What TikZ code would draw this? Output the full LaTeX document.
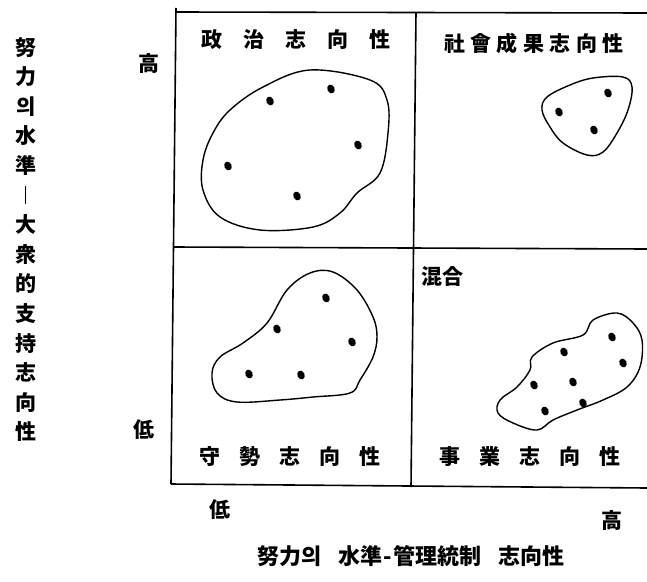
\documentclass[tikz,border=0pt]{standalone}
\usepackage{fontspec}
\newfontfamily\cjk{Noto Sans CJK KR}
\newcommand\gpA{\hspace{21pt}}
\newcommand\gpB{\hspace{5.5pt}}
\newcommand\gpC{\hspace{19pt}}
\begin{document}
\begin{tikzpicture}[x=1pt,y=-1pt,
  frame/.style={line width=1.6pt,black},
  blob/.style={line width=1.4pt,black},
  lbl/.style={font=\cjk\bfseries\fontsize{21}{21}\selectfont,inner sep=0pt},
  axlbl/.style={font=\cjk\bfseries\fontsize{21}{21}\selectfont,inner sep=0pt},
  dotm/.style={fill=black}]
\useasboundingbox (0,0) rectangle (647,581);
\fill[white] (0,0) rectangle (647,581);
% frame corners
\coordinate (tl) at (176,8);
\coordinate (tlh) at (176,12);
\coordinate (tr) at (647,13);
\coordinate (bl) at (171,484);
\coordinate (br) at (647,488);
\coordinate (mt) at (416,12);
\coordinate (mb) at (411,487);
\coordinate (ml) at (174,247);
\coordinate (mr) at (647,249);
\draw[frame] (tl) -- (bl);
\draw[frame] (tlh) -- (tr);
\draw[frame] (bl) -- (br);
\draw[frame] (mt) -- (mb);
\draw[frame] (ml) -- (mr);
% quadrant titles
\node[lbl] (q1) at (296,40) {政\gpA 治\gpA 志\gpA 向\gpA 性};
\node[lbl] (q2) at (534,43) {社\gpB 會\gpB 成\gpB 果\gpB 志\gpB 向\gpB 性};
\node[lbl] (q3) at (290,457) {守\gpC 勢\gpC 志\gpC 向\gpC 性};
\node[lbl] (q4) at (530,457) {事\gpC 業\gpC 志\gpC 向\gpC 性};
\node[lbl,anchor=west] (mix) at (421,277) {混合};
% axis labels
\node[axlbl] (yhi) at (149,64) {高};
\node[axlbl] (ylo) at (144,430) {低};
\node[axlbl] (xlo) at (220,510) {低};
\node[axlbl] (xhi) at (612,520) {高};
\node[axlbl,align=center,font=\cjk\bfseries\fontsize{21}{29.6}\selectfont] (ytitle) at (26,239.5)
  {努\\力\\의\\水\\準\\︱\\大\\衆\\的\\支\\持\\志\\向\\性};
\node[axlbl,font=\cjk\bfseries\fontsize{22}{22}\selectfont] (xtitle) at (411,556)
  {努力의\hspace{17pt}水準\hspace{1.5pt}-\hspace{1.5pt}管理統制\hspace{17pt}志向性};
% blobs
\draw[blob] plot[smooth cycle,tension=0.6] coordinates {
 (310,70) (370,80) (387,100) (388,133) (380,173) (357,193) (340,213) (313,227)
 (260,230) (220,217) (203,190) (203,160) (213,133) (230,110) (263,87)};
\draw[blob] plot[smooth cycle,tension=0.6] coordinates {
 (547,97) (570,85) (593,78) (623,77) (632,87) (628,110) (617,133) (603,152)
 (587,155) (563,143) (550,127) (542,110)};
\draw[blob] plot[smooth cycle,tension=0.6] coordinates {
 (287,290) (310,273) (333,272) (357,290) (373,317) (377,337) (373,357) (360,380)
 (350,393) (313,397) (280,400) (237,402) (217,393) (212,373) (220,357) (243,343) (267,323)};
\draw[blob] plot[smooth cycle,tension=0.6] coordinates {
 (593,320) (617,313) (633,323) (642,340) (640,367) (627,387) (603,400) (577,410)
 (553,420) (537,430) (513,423) (498,413) (500,400) (517,387) (530,370) (532,357)
 (553,343) (583,335)};
% dots
\foreach \px/\py in {270/101, 331/89, 358/145, 228/166, 297/196,
  608/93, 559/112, 594/130,
  326/298, 277/329, 352/342, 249/374, 301/375,
  612/337, 564/352, 623/363, 534/385, 573/382, 545/411, 583/403}
  \fill[dotm,rotate around={25:(\px,\py)}] (\px,\py) ellipse (3.6 and 4.6);
\end{tikzpicture}
\end{document}
